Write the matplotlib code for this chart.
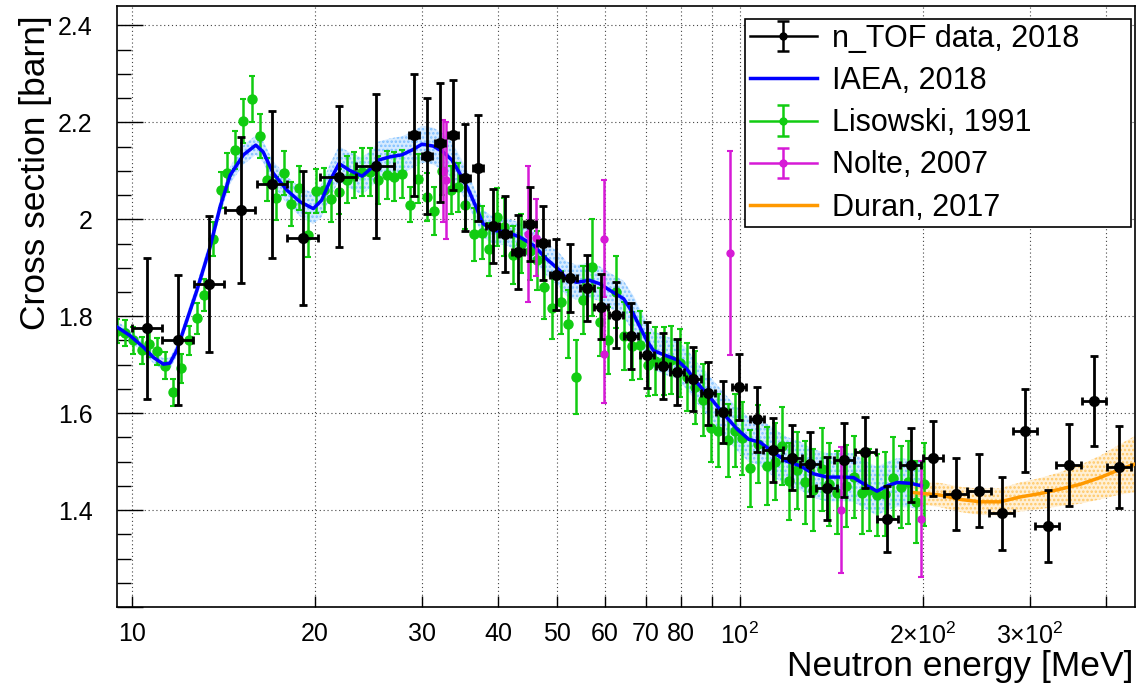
import matplotlib
matplotlib.use('Agg')
import matplotlib.pyplot as plt
from matplotlib.lines import Line2D
from matplotlib.ticker import FixedLocator, FixedFormatter, NullLocator
import numpy as np

plt.rcParams['font.family'] = ['Liberation Sans', 'DejaVu Sans']
plt.rcParams['mathtext.fontset'] = 'custom'
plt.rcParams['mathtext.rm'] = 'Liberation Sans'
plt.rcParams['mathtext.it'] = 'Liberation Sans:italic'
plt.rcParams['hatch.linewidth'] = 1.2

# n_TOF data, 2018
ntof_e = [10.6, 11.9, 13.4, 15.1, 17.0, 19.1, 21.9, 25.2, 29.1, 30.6, 32.1, 33.7, 35.3, 37.1,
          39.2, 41.1, 43.2, 45.2, 47.5, 49.9, 52.6, 56.0, 59.1, 62.6, 66.2, 70.3, 74.7, 78.8,
          83.9, 88.8, 93.8, 99.8, 106.7, 113.6, 122.1, 130.6, 139.1, 148.5, 161, 175, 191, 208,
          227, 248, 270, 295, 321, 348, 383, 421]
ntof_de = [0.6, 0.68, 0.77, 0.86, 0.97, 1.09, 1.5, 1.8, 0.55, 0.58, 0.6, 0.64, 0.67, 0.7,
           0.9, 0.95, 1.0, 1.04, 1.09, 1.15, 1.4, 1.5, 1.6, 1.7, 1.8, 1.9, 2.0, 2.1,
           2.3, 2.4, 2.5, 2.7, 2.9, 4.4, 4.7, 5.1, 5.4, 5.8, 6.3, 6.8, 7.5, 8.1,
           10.4, 11.4, 12.4, 13.6, 14.8, 16.0, 17.6, 19.4]
ntof_xs = [1.775, 1.751, 1.867, 2.019, 2.072, 1.961, 2.088, 2.110, 2.174, 2.130, 2.158, 2.174,
           2.086, 2.106, 1.986, 1.970, 1.932, 1.990, 1.951, 1.886, 1.879, 1.859, 1.820, 1.802,
           1.760, 1.719, 1.697, 1.684, 1.670, 1.641, 1.603, 1.653, 1.587, 1.524, 1.508, 1.495,
           1.445, 1.503, 1.519, 1.381, 1.493, 1.507, 1.433, 1.440, 1.393, 1.564, 1.367, 1.493,
           1.625, 1.489]
ntof_err = [0.146, 0.135, 0.140, 0.150, 0.152, 0.138, 0.145, 0.148, 0.125, 0.120, 0.123, 0.113,
            0.110, 0.110, 0.077, 0.078, 0.076, 0.076, 0.077, 0.073, 0.070, 0.068, 0.068, 0.068,
            0.068, 0.068, 0.068, 0.068, 0.066, 0.065, 0.064, 0.068, 0.067, 0.066, 0.067, 0.066,
            0.065, 0.076, 0.074, 0.068, 0.076, 0.077, 0.075, 0.075, 0.075, 0.085, 0.074, 0.084,
            0.092, 0.085]

# IAEA evaluation, 2018
iaea_e = [9.46, 9.92, 10.44, 10.84, 11.26, 11.54, 11.84, 12.3, 12.78, 13.44, 13.96, 14.5, 15.25,
          15.98, 16.43, 17.07, 17.98, 18.9, 19.87, 20.5, 21.2, 21.9, 22.8, 23.9, 24.9, 25.4,
          26.6, 27.8, 28.9, 30.0, 31.3, 32.5, 33.6, 34.6, 35.8, 37.0, 37.8, 39.3, 41.3, 43.5,
          45.8, 48.1, 50.5, 51.9, 53.9, 56.6, 58.8, 61.2, 64.4, 66.8, 70.3, 72.1, 74.8, 78.8,
          81.8, 85.0, 89.4, 94.1, 99.0, 103.4, 108, 113.6, 119.3, 125.9, 132.1, 139.1, 148.1,
          153.9, 160.9, 168.2, 174.9, 181.7, 191.4, 199.0]
iaea_xs = [1.777, 1.760, 1.736, 1.715, 1.701, 1.703, 1.729, 1.791, 1.853, 1.943, 2.026, 2.091,
           2.133, 2.153, 2.139, 2.095, 2.060, 2.036, 2.022, 2.039, 2.081, 2.115, 2.101, 2.089,
           2.108, 2.122, 2.129, 2.133, 2.143, 2.155, 2.151, 2.139, 2.122, 2.095, 2.060, 2.019,
           1.991, 1.977, 1.974, 1.963, 1.946, 1.918, 1.895, 1.877, 1.870, 1.874, 1.867, 1.853,
           1.836, 1.805, 1.750, 1.729, 1.721, 1.710, 1.691, 1.663, 1.632, 1.598, 1.567, 1.546,
           1.540, 1.519, 1.501, 1.491, 1.475, 1.468, 1.468, 1.467, 1.452, 1.439, 1.450, 1.457,
           1.455, 1.450]
iaea_unc = [0.012, 0.012, 0.012, 0.012, 0.012, 0.012, 0.012, 0.013, 0.014, 0.015, 0.016, 0.018,
            0.02, 0.02, 0.022, 0.025, 0.028, 0.03, 0.032, 0.034, 0.035, 0.036, 0.037, 0.038,
            0.038, 0.038, 0.038, 0.038, 0.038, 0.038, 0.038, 0.038, 0.038, 0.036, 0.034, 0.03,
            0.028, 0.028, 0.028, 0.03, 0.032, 0.034, 0.035, 0.036, 0.036, 0.036, 0.036, 0.036,
            0.037, 0.038, 0.038, 0.04, 0.04, 0.04, 0.042, 0.042, 0.043, 0.044, 0.045, 0.046,
            0.048, 0.05, 0.05, 0.05, 0.05, 0.05, 0.05, 0.05, 0.05, 0.05, 0.05, 0.05, 0.05, 0.05]

# Lisowski, 1991
lis_e = [9.46, 9.74, 10.05, 10.37, 10.65, 10.98, 11.33, 11.67, 12.03, 12.41, 12.78, 13.15, 13.61,
         14.01, 14.35, 14.79, 15.25, 15.74, 16.24, 16.70, 17.26, 17.75, 18.27, 18.85, 19.46,
         20.08, 20.72, 21.26, 21.9, 22.56, 23.22, 23.93, 24.65, 25.43, 26.25, 26.98, 27.82,
         28.68, 29.55, 30.54, 31.44, 32.4, 33.45, 34.35, 35.3, 36.5, 37.6, 38.7, 39.8, 41.0,
         42.3, 43.7, 45.2, 46.3, 47.6, 49.1, 50.7, 52.2, 53.8, 55.3, 57.1, 58.9, 60.8, 62.6,
         64.4, 66.4, 68.5, 70.5, 72.5, 74.9, 77.0, 79.8, 81.8, 84.4, 86.9, 89.6, 92.2, 95.6,
         98.2, 100.8, 104.0, 107.3, 110.8, 114.3, 117.3, 120.7, 124.4, 128.1, 132.2, 136.4,
         140.4, 144.7, 149.6, 154.2, 158.8, 163.4, 168.4, 173.4, 178.9, 184.2, 189.4, 195.1,
         201.1]
lis_xs = [1.769, 1.765, 1.750, 1.730, 1.743, 1.728, 1.698, 1.643, 1.693, 1.750, 1.796, 1.843,
          1.959, 2.060, 2.096, 2.143, 2.203, 2.248, 2.172, 2.082, 2.043, 2.095, 2.031, 2.065,
          1.967, 2.058, 2.060, 2.041, 2.057, 2.082, 2.091, 2.098, 2.098, 2.081, 2.091, 2.088,
          2.093, 2.030, 2.084, 2.046, 2.017, 2.100, 2.060, 2.066, 2.030, 1.969, 1.972, 1.938,
          2.005, 1.984, 1.927, 1.950, 1.935, 1.915, 1.860, 1.817, 1.829, 1.784, 1.675, 1.834,
          1.901, 1.788, 1.750, 1.850, 1.760, 1.739, 1.741, 1.700, 1.708, 1.708, 1.710, 1.703,
          1.674, 1.653, 1.627, 1.570, 1.564, 1.544, 1.564, 1.548, 1.486, 1.536, 1.491, 1.500,
          1.532, 1.459, 1.482, 1.457, 1.441, 1.484, 1.453, 1.436, 1.450, 1.468, 1.436, 1.441,
          1.431, 1.433, 1.466, 1.448, 1.457, 1.417, 1.453]
lis_err = [0.025, 0.027, 0.027, 0.028, 0.028, 0.028, 0.028, 0.028, 0.030, 0.030, 0.032, 0.033,
           0.035, 0.037, 0.040, 0.040, 0.045, 0.047, 0.045, 0.045, 0.045, 0.045, 0.045, 0.045,
           0.045, 0.045, 0.045, 0.046, 0.046, 0.048, 0.048, 0.050, 0.050, 0.050, 0.050, 0.050,
           0.050, 0.036, 0.050, 0.050, 0.050, 0.050, 0.050, 0.050, 0.050, 0.055, 0.055, 0.055,
           0.060, 0.060, 0.060, 0.060, 0.060, 0.060, 0.065, 0.065, 0.065, 0.070, 0.076, 0.070,
           0.100, 0.070, 0.070, 0.075, 0.070, 0.070, 0.070, 0.065, 0.070, 0.070, 0.070, 0.070,
           0.070, 0.075, 0.075, 0.070, 0.075, 0.075, 0.075, 0.075, 0.080, 0.080, 0.080, 0.080,
           0.080, 0.080, 0.080, 0.085, 0.085, 0.085, 0.085, 0.085, 0.085, 0.085, 0.085, 0.085,
           0.085, 0.086, 0.085, 0.085, 0.085, 0.085, 0.085]

# Nolte, 2007
nolte_e = [32.5, 32.9, 44.8, 46.2, 59.8, 59.8, 96.4, 146.8, 198.6]
nolte_xs = [2.100, 2.080, 1.970, 1.962, 1.960, 1.721, 1.930, 1.401, 1.381]
nolte_err = [0.105, 0.120, 0.140, 0.080, 0.120, 0.100, 0.210, 0.130, 0.120]

# Duran, 2017
duran_e = [193, 213.6, 230.4, 248.6, 268.2, 289.3, 312, 336.5, 363, 391.6, 422.5, 447]
duran_xs = [1.436, 1.431, 1.422, 1.417, 1.417, 1.427, 1.434, 1.443, 1.453, 1.467, 1.484, 1.495]
duran_unc = [0.022, 0.025, 0.026, 0.027, 0.028, 0.030, 0.032, 0.035, 0.040, 0.045, 0.052, 0.058]

x_ticks = [10, 20, 30, 40, 50, 60, 70, 80, 90, 100, 200, 300, 400]
x_labels = ['10', '20', '30', '40', '50', '60', '70', '80', '',
            r'$\mathregular{10^{2}}$', r'$\mathregular{2{\times}10^{2}}$',
            r'$\mathregular{3{\times}10^{2}}$', '']
y_ticks = [1.2, 1.4, 1.6, 1.8, 2.0, 2.2, 2.4]
y_labels = ['', '1.4', '1.6', '1.8', '2', '2.2', '2.4']

c_ntof, c_iaea, c_lis, c_nolte, c_duran = 'black', '#0000ff', '#11cc11', '#d61ad6', '#ff9900'

fig = plt.figure(figsize=(11.37, 6.85), dpi=100)
ax = fig.add_axes([0.1033, 0.1139, 0.8949, 0.8773])
ax.set_xscale('log')

# uncertainty bands
lo = np.array(iaea_xs) - np.array(iaea_unc)
hi = np.array(iaea_xs) + np.array(iaea_unc)
ax.fill_between(iaea_e, lo, hi, facecolor='#d6ebff', edgecolor='#7fbfff', hatch='....',
                linewidth=0, zorder=1)
lo = np.array(duran_xs) - np.array(duran_unc)
hi = np.array(duran_xs) + np.array(duran_unc)
ax.fill_between(duran_e, lo, hi, facecolor='#fff0d6', edgecolor='#ffc866', hatch='....',
                linewidth=0, zorder=1)

ax.errorbar(lis_e, lis_xs, yerr=lis_err, fmt='o', color=c_lis, ms=6.5, capsize=2.5,
            elinewidth=1.8, capthick=1.5, zorder=2)
ax.plot(iaea_e, iaea_xs, color=c_iaea, lw=2.5, zorder=3)
ax.plot(duran_e, duran_xs, color=c_duran, lw=2.5, zorder=3)
ax.errorbar(nolte_e, nolte_xs, yerr=nolte_err, fmt='o', color=c_nolte, ms=5, capsize=2.5,
            elinewidth=1.8, capthick=1.5, zorder=4)
ax.errorbar(ntof_e, ntof_xs, xerr=ntof_de, yerr=ntof_err, fmt='o', color=c_ntof, ms=7,
            capsize=3, elinewidth=2, capthick=2, zorder=5)

ax.set_xlim(9.46, 447)
ax.set_ylim(1.2, 2.44)

ax.xaxis.set_major_locator(FixedLocator(x_ticks))
ax.xaxis.set_major_formatter(FixedFormatter(x_labels))
ax.xaxis.set_minor_locator(NullLocator())
ax.yaxis.set_major_locator(FixedLocator(y_ticks))
ax.yaxis.set_major_formatter(FixedFormatter(y_labels))
ax.yaxis.set_minor_locator(FixedLocator(np.arange(1.25, 2.44, 0.05)))

ax.tick_params(axis='x', which='major', direction='in', length=8, width=1, pad=11,
               labelsize=18, top=False)
ax.tick_params(axis='y', which='major', direction='in', length=19, width=1, pad=18,
               labelsize=18, right=False)
ax.tick_params(axis='y', which='minor', direction='in', length=10, width=1, right=False)

ax.grid(True, which='major', linestyle=(0, (1, 2.5)), color='#444444', linewidth=0.8)
ax.set_axisbelow(True)
for s in ax.spines.values():
    s.set_linewidth(1.2)

ax.set_xlabel('Neutron energy [MeV]', fontsize=25.5, loc='right')
ax.xaxis.set_label_coords(0.998, -0.072)
ax.set_ylabel('Cross section [barn]', fontsize=25.5, loc='top')
ax.yaxis.set_label_coords(-0.064, 0.985)


# legend entries drawn like ROOT "lep": horizontal line + marker + vertical error bar
def proxy(color, ms):
    eb = ax.errorbar([np.nan], [np.nan], yerr=[0.1], fmt='o', color=color, ms=ms,
                     capsize=4, elinewidth=1.8, capthick=1.8)
    return (Line2D([], [], color=color, lw=1.8), eb)


handles = [proxy(c_ntof, 5), Line2D([], [], color=c_iaea, lw=2.5), proxy(c_lis, 5),
           proxy(c_nolte, 5), Line2D([], [], color=c_duran, lw=2.5)]
labels = ['n_TOF data, 2018', 'IAEA, 2018', 'Lisowski, 1991', 'Nolte, 2007', 'Duran, 2017']
leg = ax.legend(handles, labels, loc='upper left',
                bbox_to_anchor=(0.6167, 0.6356, 0.3794, 0.3424), mode='expand',
                borderaxespad=0, fontsize=22, fancybox=False, edgecolor='black',
                framealpha=1, handlelength=2.2, handletextpad=0.5, labelspacing=0.4,
                borderpad=0.15)
leg.get_frame().set_linewidth(1.2)

fig.savefig('out.png', dpi=100)
